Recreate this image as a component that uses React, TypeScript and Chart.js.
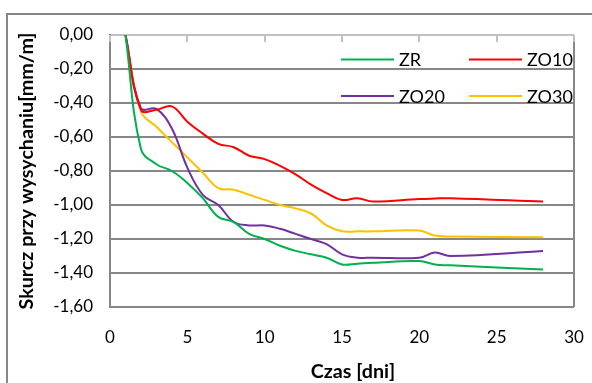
import React, { useEffect, useRef } from 'react';
import { Chart, registerables } from 'chart.js';

Chart.register(...registerables);

const DAYS = [1, 2, 3, 4, 5, 6, 7, 8, 9, 10, 11, 12, 13, 14, 15, 16, 17, 20, 21, 22, 28];
const ZR = [0, -0.67, -0.76, -0.8, -0.87, -0.96, -1.07, -1.1, -1.17, -1.2, -1.24, -1.27, -1.29, -1.31, -1.35, -1.345, -1.34, -1.33, -1.35, -1.355, -1.38];
const ZO10 = [0, -0.44, -0.44, -0.42, -0.51, -0.58, -0.64, -0.66, -0.71, -0.73, -0.77, -0.82, -0.88, -0.93, -0.97, -0.96, -0.98, -0.965, -0.962, -0.96, -0.98];
const ZO20 = [0, -0.43, -0.435, -0.55, -0.78, -0.94, -1.0, -1.1, -1.12, -1.12, -1.14, -1.17, -1.2, -1.23, -1.29, -1.31, -1.31, -1.31, -1.28, -1.3, -1.27];
const ZO30 = [0, -0.45, -0.54, -0.63, -0.72, -0.81, -0.9, -0.91, -0.94, -0.97, -1.0, -1.02, -1.05, -1.12, -1.155, -1.155, -1.155, -1.15, -1.18, -1.185, -1.19];

const SERIES_LABELS = ['ZR', 'ZO10', 'ZO20', 'ZO30'];
const SERIES_COLORS = ['#00B050', '#FF0000', '#7030A0', '#FFC000'];
const SERIES_VALUES = [ZR, ZO10, ZO20, ZO30];

const X_TICKS = [0, 5, 10, 15, 20, 25, 30];
const Y_TICKS = [0, -0.2, -0.4, -0.6, -0.8, -1.0, -1.2, -1.4, -1.6];
const X_TITLE = 'Czas [dni]';
const Y_TITLE = 'Skurcz przy wysychaniu[mm/m]';

const FONT = 'Lato';
const GRID = '#878787';
const LIGHT = '#c0c0c0';
const TITLE_SIZE = 19.7;

const fmt = (v: number) => v.toFixed(2).replace('.', ',').replace('-0,00', '0,00');

const decorPlugin = {
  id: 'decor',
  beforeDraw(chart: any) {
    const { ctx } = chart;
    ctx.save();
    ctx.fillStyle = '#fff';
    ctx.fillRect(0, 0, chart.width, chart.height);
    ctx.strokeStyle = GRID;
    ctx.lineWidth = 2;
    ctx.strokeRect(7, 14, chart.width + 50, chart.height + 50);
    ctx.restore();
  },
  beforeDatasetsDraw(chart: any) {
    const { ctx, chartArea } = chart;
    const xs = chart.scales.x;
    ctx.save();
    ctx.strokeStyle = GRID;
    ctx.lineWidth = 2;
    ctx.beginPath();
    ctx.moveTo(chartArea.right, chartArea.top);
    ctx.lineTo(chartArea.right, chartArea.bottom);
    ctx.stroke();
    ctx.strokeStyle = LIGHT;
    X_TICKS.forEach((t) => {
      const px = Math.round(xs.getPixelForValue(t));
      ctx.beginPath();
      ctx.moveTo(px, chartArea.top);
      ctx.lineTo(px, chartArea.top + 7);
      ctx.stroke();
    });
    ctx.restore();
  },
  afterDatasetsDraw(chart: any) {
    const { ctx, chartArea } = chart;
    ctx.save();
    chart.data.datasets.forEach((ds: any, i: number) => {
      const col = i % 2;
      const row = Math.floor(i / 2);
      const x0 = chartArea.right - 233 + col * 128;
      const y = chartArea.top + 24.5 + row * 36.5;
      ctx.strokeStyle = ds.borderColor;
      ctx.lineWidth = 2;
      ctx.beginPath();
      ctx.moveTo(x0, y);
      ctx.lineTo(x0 + 53, y);
      ctx.stroke();
      ctx.fillStyle = '#000';
      ctx.font = `18px ${FONT}`;
      ctx.textBaseline = 'middle';
      ctx.textAlign = 'left';
      ctx.fillText(ds.label, x0 + 58, y + 1);
    });
    ctx.font = `bold ${TITLE_SIZE}px ${FONT}`;
    ctx.textAlign = 'center';
    ctx.textBaseline = 'middle';
    ctx.fillStyle = '#000';
    ctx.fillText(X_TITLE, (chartArea.left + chartArea.right) / 2 + 11, chartArea.bottom + 65);
    ctx.restore();
  },
};

export default function App() {
  const ref = useRef<HTMLCanvasElement>(null);
  useEffect(() => {
    let chart: Chart | null = null;
    let cancelled = false;
    const make = () => {
      if (cancelled || !ref.current) return;
      chart = new Chart(ref.current, {
        type: 'line',
        data: {
          datasets: SERIES_VALUES.map((vals, i) => ({
            label: SERIES_LABELS[i],
            data: DAYS.map((d, j) => ({ x: d, y: vals[j] })),
            borderColor: SERIES_COLORS[i],
            backgroundColor: SERIES_COLORS[i],
            borderWidth: 2,
            pointRadius: 0,
            tension: 0.4,
            fill: false,
          })),
        },
        options: {
          animation: false,
          responsive: false,
          devicePixelRatio: 1,
          layout: { padding: { left: 0, right: 18, top: 35, bottom: 0 } },
          plugins: { legend: { display: false }, tooltip: { enabled: false } },
          scales: {
            x: {
              type: 'linear',
              position: 'bottom',
              min: 0,
              max: 30,
              afterBuildTicks: (s: any) => {
                s.ticks = X_TICKS.map((v) => ({ value: v }));
              },
              afterFit: (s: any) => {
                s.height = 76;
                s.paddingLeft = 0;
                s.paddingRight = 0;
              },
              grid: { display: false, drawTicks: false },
              border: { display: false },
              ticks: { padding: 20, color: '#000', font: { family: FONT, size: 17 } },
            },
            y: {
              type: 'linear',
              min: -1.6,
              max: 0,
              afterBuildTicks: (s: any) => {
                s.ticks = Y_TICKS.map((v) => ({ value: v }));
              },
              afterFit: (s: any) => {
                s.width = 110;
                s.paddingTop = 0;
                s.paddingBottom = 0;
              },
              grid: {
                color: (c: any) => (c.tick && Math.abs(c.tick.value) < 1e-9 ? LIGHT : GRID),
                lineWidth: 2,
                drawTicks: false,
              },
              border: { display: true, color: GRID, width: 2 },
              ticks: {
                padding: 17,
                color: '#000',
                font: { family: FONT, size: 17 },
                callback: (v: any) => fmt(Number(v)),
              },
              title: {
                display: true,
                text: Y_TITLE,
                color: '#000',
                font: { family: FONT, size: TITLE_SIZE, weight: 'bold' },
                padding: { top: 15, bottom: 0 },
              },
            },
          },
        },
        plugins: [decorPlugin],
      } as any);
    };
    const fonts = (document as any).fonts;
    if (fonts && fonts.load) {
      Promise.all([fonts.load(`17px ${FONT}`), fonts.load(`bold 17px ${FONT}`)])
        .catch(() => null)
        .then(make);
    } else {
      make();
    }
    return () => {
      cancelled = true;
      if (chart) chart.destroy();
    };
  }, []);
  return (
    <div style={{ position: 'absolute', left: 0, top: 0, width: 592, height: 383, overflow: 'hidden', background: '#fff' }}>
      <canvas ref={ref} width={592} height={383} style={{ display: 'block', width: 592, height: 383 }} />
    </div>
  );
}
